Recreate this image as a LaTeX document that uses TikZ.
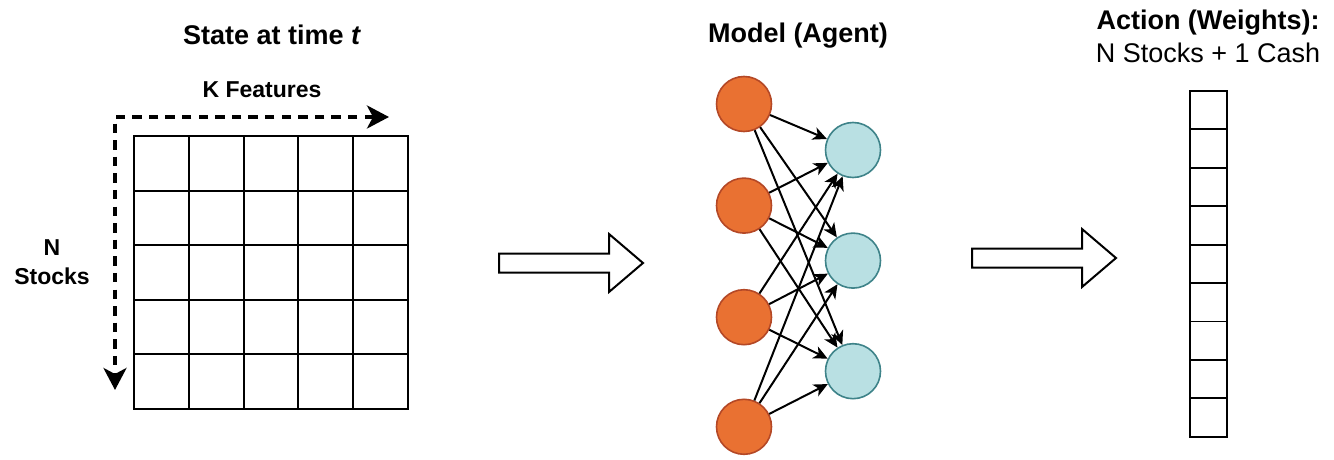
\documentclass[tikz,border=0pt]{standalone}
\usepackage{fontspec}
\setmainfont{Liberation Sans}
\usepackage{tikz}
\usetikzlibrary{positioning}
\usetikzlibrary{arrows.meta}
\definecolor{inorange}{RGB}{233,113,50}
\definecolor{inorangeline}{RGB}{180,72,38}
\definecolor{outteal}{RGB}{185,224,227}
\definecolor{outtealline}{RGB}{62,131,137}
\tikzset{in node/.style={circle,fill=inorange,draw=inorangeline,minimum size=27.5pt,inner sep=0pt,line width=0.8pt},
out node/.style={circle,fill=outteal,draw=outtealline,minimum size=27.5pt,inner sep=0pt,line width=0.8pt},
cell/.style={draw,line width=1pt,minimum width=27.4pt,minimum height=27.3pt,inner sep=0pt},
wcell/.style={draw,line width=0.9pt,minimum width=18.5pt,minimum height=19.2pt,inner sep=0pt},
title/.style={font=\fontsize{13.5}{16}\selectfont\bfseries,inner sep=0pt},
axis text/.style={font=\fontsize{11.5}{14.5}\selectfont\bfseries,align=center,inner sep=0pt},
edge/.style={line width=1pt,-{Stealth[length=7pt,width=6.5pt,inset=2pt]}},
dashline/.style={line width=1.7pt,dash pattern=on 4.7pt off 3.6pt,{Stealth[length=11pt,width=11.5pt,inset=3pt]}-{Stealth[length=11pt,width=11.5pt,inset=3pt]}},
bigarrow/.pic={\draw[line width=1pt,fill=white] (0,-9.5) -- (110,-9.5) -- (110,-29) -- (144,0) -- (110,29) -- (110,9.5) -- (0,9.5) -- cycle;},
}
\begin{document}
\begin{tikzpicture}[x=0.5pt,y=-0.5pt,semithick]
    \useasboundingbox (0,0) rectangle (1334,460);

    % state
    \node[title] (state) at (272,35) {State at time \textit{t}};
    \foreach \r in {0,...,4}
        \foreach \c in {0,...,4}
            \node[cell] (s\r\c) at (161.4+54.8*\c,163.3+54.6*\r) {};
    \node[axis text] (kfeat) at (262,90) {K Features};
    \node[axis text] (nstock) at (52,262) {N\\Stocks};
    \coordinate (corner) at (115,117);
    \coordinate (kend) at (389,117);
    \coordinate (nend) at (115,390);
    \draw[dashline] (kend) -- (corner) -- (nend);

    \pic at (499,263) {bigarrow};

    % model
    \node[title] (model) at (798,36) {Model (Agent)};
    \node[in node] (i1) at (744,104) {};
    \node[in node] (i2) [below = 22.5pt of i1] {};
    \node[in node] (i3) [below = 27.5pt of i2] {};
    \node[in node] (i4) [below = 26.5pt of i3] {};
    \node[out node] (o1) at (853,150) {};
    \node[out node] (o2) [below = 27pt of o1] {};
    \node[out node] (o3) [below = 27pt of o2] {};
    \foreach \i in {1,...,4}
        \foreach \j in {1,2,3}
            \draw[edge] (i\i) -- (o\j);

    \pic at (972,258) {bigarrow};

    % action
    \node[title] (action) at (1208,23) {Action (Weights):};
    \node[font=\fontsize{13.5}{16}\selectfont,inner sep=0pt] (cash) at (1208,53) {N Stocks + 1 Cash};
    \foreach \k in {0,...,8}
        \node[wcell] (w\k) at (1208.5,110.2+38.4*\k) {};
\end{tikzpicture}
\end{document}
